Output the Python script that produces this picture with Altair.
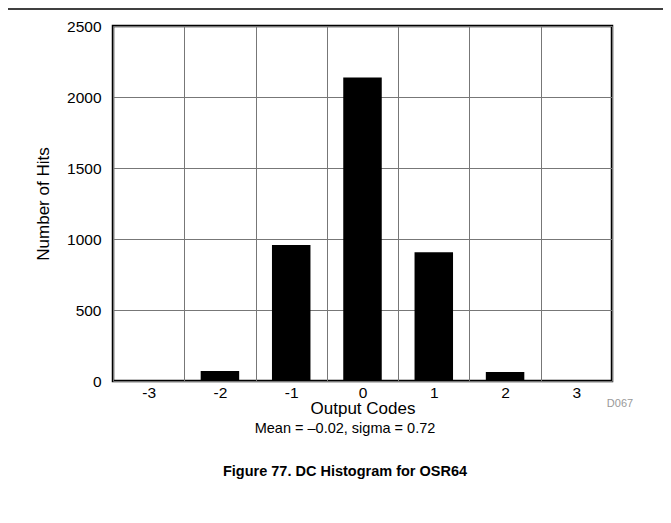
import altair as alt
import pandas as pd

# ---- data ----
codes = ["-3", "-2", "-1", "0", "1", "2", "3"]
hits = [6, 70, 958, 2138, 907, 63, 4]
y_ticks = [0, 500, 1000, 1500, 2000, 2500]
stats_text = ["Mean = \u20130.02, sigma = 0.72"]
caption_text = ["Figure 77. DC Histogram for OSR64"]
code_id = ["D067"]

FONT = "Liberation Sans"
W, H = 499, 355

df = pd.DataFrame({"code": codes, "hits": hits})

bars = alt.Chart(df).mark_bar(color="black", width=alt.RelativeBandSize(0.54)).encode(
    x=alt.X(
        "code:O", sort=codes,
        scale=alt.Scale(paddingInner=0, paddingOuter=0),
        axis=alt.Axis(
            title="Output Codes", labelAngle=0, tickBand="extent", grid=True,
            ticks=False, domain=False, labelPadding=4, titlePadding=0,
            gridColor="#777777", gridWidth=1,
        ),
    ),
    y=alt.Y(
        "hits:Q",
        scale=alt.Scale(domain=[0, 2500], nice=False),
        axis=alt.Axis(
            title="Number of Hits", values=y_ticks, format="d", ticks=False, domain=False,
            labelPadding=12, titlePadding=14, grid=True,
            gridColor="#777777", gridWidth=1,
        ),
    ),
)

one = pd.DataFrame({"a": [0]})

top_line = alt.Chart(one).mark_rule(color="black", strokeWidth=1.5).encode(
    x=alt.value(-113), x2=alt.value(W + 60), y=alt.value(-17)
)

stats = alt.Chart(pd.DataFrame({"t": stats_text})).mark_text(
    font=FONT, fontSize=14.5, color="black", align="center", baseline="middle"
).encode(text="t:N", x=alt.value(232), y=alt.value(403))

caption = alt.Chart(pd.DataFrame({"t": caption_text})).mark_text(
    font=FONT, fontSize=14.5, fontWeight="bold", color="black", align="center", baseline="middle"
).encode(text="t:N", x=alt.value(232), y=alt.value(446))

did = alt.Chart(pd.DataFrame({"t": code_id})).mark_text(
    font=FONT, fontSize=11, color="#999999", align="center", baseline="middle"
).encode(text="t:N", x=alt.value(507), y=alt.value(378))

chart = alt.layer(bars, top_line, stats, caption, did).properties(
    width=W, height=H,
    autosize=alt.AutoSizeParams(type="none"),
    padding={"left": 105, "top": 18, "right": 51, "bottom": 134},
).configure_view(
    stroke="black", strokeWidth=2.5
).configure_axis(
    labelFont=FONT, titleFont=FONT, labelFontSize=15.5, titleFontSize=17,
    labelColor="black", titleColor="black", titleFontWeight="normal",
)

chart.save("out.html", embed_options={"renderer": "svg", "actions": False})
